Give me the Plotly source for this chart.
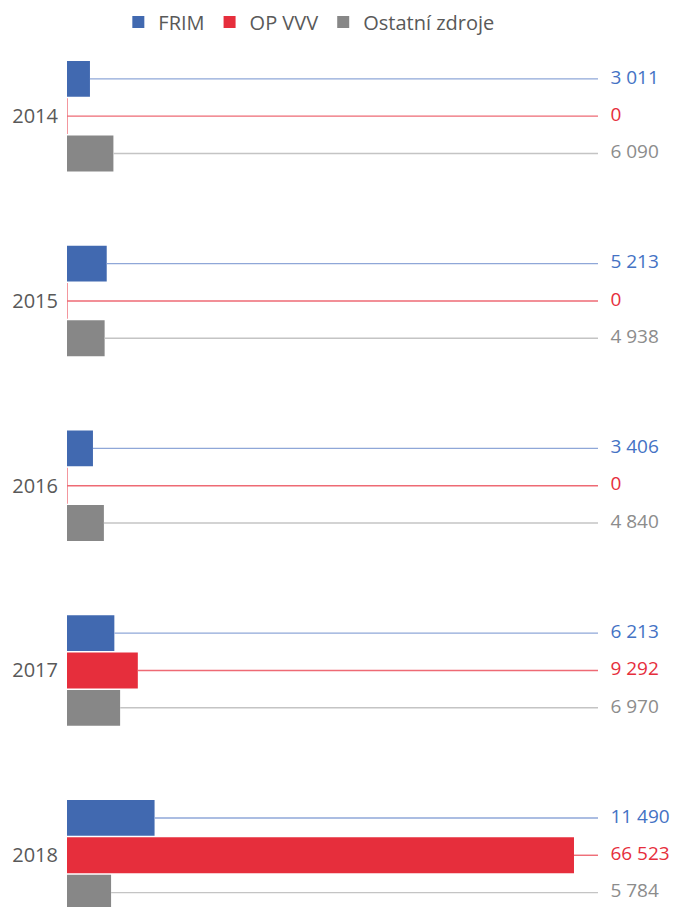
import plotly.graph_objects as go

years = ["2014", "2015", "2016", "2017", "2018"]
series_names = ["FRIM", "OP VVV", "Ostatní zdroje"]
frim = [3011, 5213, 3406, 6213, 11490]
op_vvv = [0, 0, 0, 9292, 66523]
ostatni = [6090, 4938, 4840, 6970, 5784]

bar_colors = ["#4169B0", "#E62E3C", "#878787"]
line_colors = ["#8FA7D8", "#EE6A74", "#C4C4C4"]
text_colors = ["#4472C4", "#E62E3C", "#8C8C8C"]

LINE_END = 69672
LABEL_X = 71300
BAR_W = 0.194
STEP = 0.202

def fmt(v):
    return f"{v:,}".replace(",", " ")

fig = go.Figure()
all_series = [frim, op_vvv, ostatni]
for k, (name, vals) in enumerate(zip(series_names, all_series)):
    off = (k - 1) * STEP
    ys = [i + off for i in range(len(years))]
    fig.add_trace(go.Bar(
        x=vals, y=ys, orientation="h", width=BAR_W, name=name,
        marker=dict(color=bar_colors[k], line=dict(width=0)),
        showlegend=True,
    ))
    lx, ly = [], []
    for v, y in zip(vals, ys):
        lx += [v, LINE_END, None]
        ly += [y, y, None]
        if v == 0:
            lx += [v, v, None]
            ly += [y - BAR_W / 2, y + BAR_W / 2, None]
    fig.add_trace(go.Scatter(
        x=lx, y=ly, mode="lines", line=dict(color=line_colors[k], width=1.4),
        showlegend=False, hoverinfo="skip",
    ))
    fig.add_trace(go.Scatter(
        x=[LABEL_X] * len(vals), y=ys, mode="text",
        text=[fmt(v) for v in vals], textposition="middle right",
        textfont=dict(color=text_colors[k], size=19, family="Open Sans"),
        showlegend=False, hoverinfo="skip", cliponaxis=False,
    ))

fig.update_layout(
    width=670, height=899,
    margin=dict(l=59, r=0, t=30, b=0),
    plot_bgcolor="white", paper_bgcolor="white",
    font=dict(family="Open Sans", size=19, color="#595959"),
    barmode="overlay",
    legend=dict(orientation="h", xref="container", x=0.449, xanchor="center",
                yref="container", y=0.9844, yanchor="middle",
                font=dict(size=20, color="#595959"), itemwidth=30,
                traceorder="normal"),
    xaxis=dict(range=[0, 80170], showgrid=False, zeroline=False,
               showticklabels=False, showline=False, fixedrange=True),
    yaxis=dict(range=[4.28, -0.404], tickmode="array",
               tickvals=list(range(len(years))), ticktext=years,
               showgrid=False, zeroline=False, showline=False, ticks="",
               ticklabelstandoff=8, tickfont=dict(size=20, color="#595959")),
)

fig.write_html("out.html")
